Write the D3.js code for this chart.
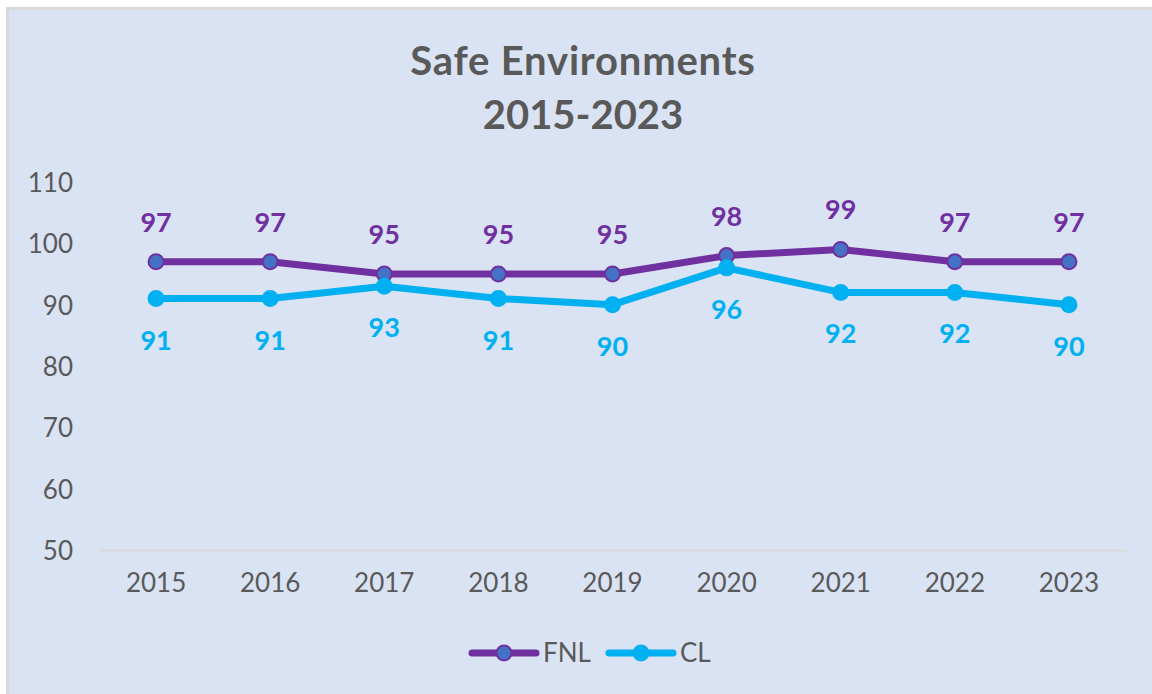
<!DOCTYPE html>
<html>
<head>
<meta charset="utf-8">
<script src="https://cdn.jsdelivr.net/npm/d3@7"></script>
<style>
  html, body { margin: 0; padding: 0; background: #ffffff; }
  svg { display: block; }
</style>
</head>
<body>
<svg id="chart" width="1152" height="694"></svg>
<script>
const years = ["2015", "2016", "2017", "2018", "2019", "2020", "2021", "2022", "2023"];
const fnlValues = [97, 97, 95, 95, 95, 98, 99, 97, 97];
const clValues = [91, 91, 93, 91, 90, 96, 92, 92, 90];
const yTicks = [50, 60, 70, 80, 90, 100, 110];
const titleLines = ["Safe Environments", "2015-2023"];
const seriesNames = ["FNL", "CL"];

const W = 1152, H = 694;
const svg = d3.select("#chart");
const FONT = "Lato, 'Open Sans', sans-serif";
const TEXT = "#595959";
const FNL_COLOR = "#7030A0", FNL_MARK = "#4472C4", CL_COLOR = "#00B0F0";

// background with gray border top/left
svg.append("rect").attr("x", 0).attr("y", 0).attr("width", W).attr("height", H).attr("fill", "#ffffff");
svg.append("rect").attr("x", 6).attr("y", 7).attr("width", W - 6).attr("height", H - 7).attr("fill", "#D9D9D9");
svg.append("rect").attr("x", 9).attr("y", 10).attr("width", W - 9).attr("height", H - 10).attr("fill", "#DAE3F3");

const plot = { left: 99, right: 1126, top: 182, bottom: 550 };

const x = d3.scaleBand().domain(years).range([plot.left, plot.right]);
const y = d3.scaleLinear().domain([50, 110]).range([plot.bottom, plot.top]);
const cx = d => x(d) + x.bandwidth() / 2;

// title
svg.append("g").selectAll("text").data(titleLines).join("text")
  .attr("x", 583).attr("y", (d, i) => 75 + i * 54)
  .attr("text-anchor", "middle")
  .attr("font-family", FONT).attr("font-weight", "bold").attr("font-size", 40)
  .attr("letter-spacing", (d, i) => i === 0 ? 0.8 : 0)
  .attr("fill", TEXT).text(d => d);

// y axis (labels only)
const yAxis = svg.append("g").attr("transform", `translate(${plot.left},0)`)
  .call(d3.axisLeft(y).tickValues(yTicks).tickSize(0).tickPadding(26));
yAxis.select(".domain").remove();
yAxis.selectAll("text").attr("font-family", FONT).attr("font-size", 26).attr("fill", TEXT)
  .attr("dy", "0.36em");

// x axis
const xAxis = svg.append("g").attr("transform", `translate(0,${plot.bottom})`)
  .call(d3.axisBottom(x).tickSize(0).tickPadding(26));
xAxis.select(".domain").attr("stroke", "#D9D9D9").attr("stroke-width", 2);
xAxis.selectAll("text").attr("font-family", FONT).attr("font-size", 26).attr("fill", TEXT)
  .attr("dy", "0.62em");

const series = [
  { name: seriesNames[0], values: fnlValues, color: FNL_COLOR, mark: FNL_MARK, labelDy: -30 },
  { name: seriesNames[1], values: clValues, color: CL_COLOR, mark: CL_COLOR, labelDy: 51 }
];

const line = d3.line().x((d, i) => cx(years[i])).y(d => y(d));

series.forEach(s => {
  svg.append("path").datum(s.values)
    .attr("d", line).attr("fill", "none")
    .attr("stroke", s.color).attr("stroke-width", 7)
    .attr("stroke-linejoin", "round").attr("stroke-linecap", "round");
});
series.forEach(s => {
  svg.append("g").selectAll("circle").data(s.values).join("circle")
    .attr("cx", (d, i) => cx(years[i])).attr("cy", d => y(d)).attr("r", 7.5)
    .attr("fill", s.mark).attr("stroke", s.color).attr("stroke-width", 2);
  svg.append("g").selectAll("text").data(s.values).join("text")
    .attr("x", (d, i) => cx(years[i])).attr("y", d => y(d) + s.labelDy)
    .attr("text-anchor", "middle")
    .attr("font-family", FONT).attr("font-weight", "bold").attr("font-size", 27)
    .attr("fill", s.color).text(d => d);
});

// legend
const legendItems = [
  { name: seriesNames[0], color: FNL_COLOR, mark: FNL_MARK, x0: 472 },
  { name: seriesNames[1], color: CL_COLOR, mark: CL_COLOR, x0: 609 }
];
const ly = 653;
legendItems.forEach(it => {
  const g = svg.append("g");
  g.append("line").attr("x1", it.x0).attr("x2", it.x0 + 64).attr("y1", ly).attr("y2", ly)
    .attr("stroke", it.color).attr("stroke-width", 7).attr("stroke-linecap", "round");
  g.append("circle").attr("cx", it.x0 + 32).attr("cy", ly).attr("r", 7.5)
    .attr("fill", it.mark).attr("stroke", it.color).attr("stroke-width", 2);
  g.append("text").attr("x", it.x0 + 71).attr("y", ly + 9)
    .attr("font-family", FONT).attr("font-size", 26).attr("fill", TEXT).text(it.name);
});
</script>
</body>
</html>
